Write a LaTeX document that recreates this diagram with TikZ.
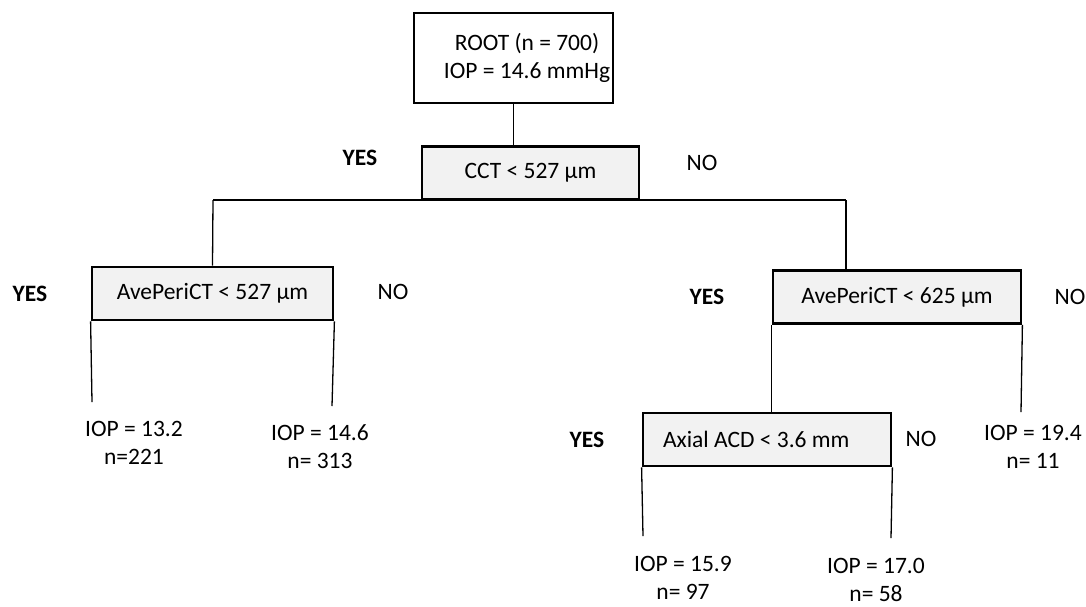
\documentclass[tikz,border=0pt]{standalone}
\usepackage{fontspec}
\setmainfont{Carlito}
\begin{document}
\begin{tikzpicture}[x=1pt,y=-1pt,
    every node/.style={font=\fontsize{23.5}{28}\selectfont},
    box/.style={draw, line width=2.8pt, minimum height=53pt, inner sep=0pt},
    cond/.style={box, fill=gray!10},
    ramo/.style={line width=1.3pt},
    yes/.style={font=\fontsize{23.5}{28}\selectfont\bfseries},
    leaf/.style={align=center}]
    \useasboundingbox (0,0) rectangle (1086,606);
    % Radice
    \node[box, minimum width=199pt, minimum height=90pt, align=center] (root) at (513.5,58)
        {\hspace*{27pt}ROOT (n = 700)\\\hspace*{27pt}IOP = 14.6 mmHg};
    \node[cond, minimum width=217pt] (cct) at (530.5,173) {CCT < 527 µm};
    \node[yes] (y0) at (360,158) {YES};
    \node (n0) at (702,163) {NO};
    % Primo livello
    \coordinate (jl) at (213,200);
    \coordinate (jr) at (846,200);
    \node[cond, minimum width=241pt] (lbox) at (212.5,293.5) {AvePeriCT < 527 µm};
    \node[yes] (y1) at (30,294) {YES};
    \node (n1) at (393,292) {NO};
    \node[cond, minimum width=248pt] (rbox) at (897,297) {AvePeriCT < 625 µm};
    \node[yes] (y2) at (707,297) {YES};
    \node (n2) at (1070,297) {NO};
    % Secondo livello
    \node[cond, text width=208pt, inner xsep=20pt, align=flush left] (acd) at (767,439.5) {Axial ACD < 3.6 mm};
    \node[yes] (y3) at (587,440) {YES};
    \node (n3) at (921,439) {NO};
    % Foglie
    \node[leaf] (f1) at (134,443) {IOP = 13.2\\n=221};
    \node[leaf] (f2) at (320,447) {IOP = 14.6\\n= 313};
    \node[leaf] (f3) at (1033,447) {IOP = 19.4\\n= 11};
    \node[leaf] (f4) at (683,578) {IOP = 15.9\\n= 97};
    \node[leaf] (f5) at (876,580) {IOP = 17.0\\n= 58};
    % Rami
    \coordinate (a1) at (92,402);
    \coordinate (a2) at (332,406);
    \coordinate (b2) at (1021,412);
    \coordinate (c1) at (643,536);
    \coordinate (c2) at (891,538);
    \draw[ramo] (root.south) -- (root.south |- cct.north);
    \draw[ramo] (jl) -- (jr);
    \draw[ramo] (jl) -- (lbox.north);
    \draw[ramo] (jr) -- (jr |- rbox.north);
    \draw[ramo] (lbox.south west) -- (a1);
    \draw[ramo] (lbox.south east) -- (a2);
    \draw[ramo] (rbox.south west) -- (rbox.south west |- acd.north);
    \draw[ramo] (rbox.south east) -- (b2);
    \draw[ramo] (acd.south west) -- (c1);
    \draw[ramo] (acd.south east) -- (c2);
\end{tikzpicture}
\end{document}
